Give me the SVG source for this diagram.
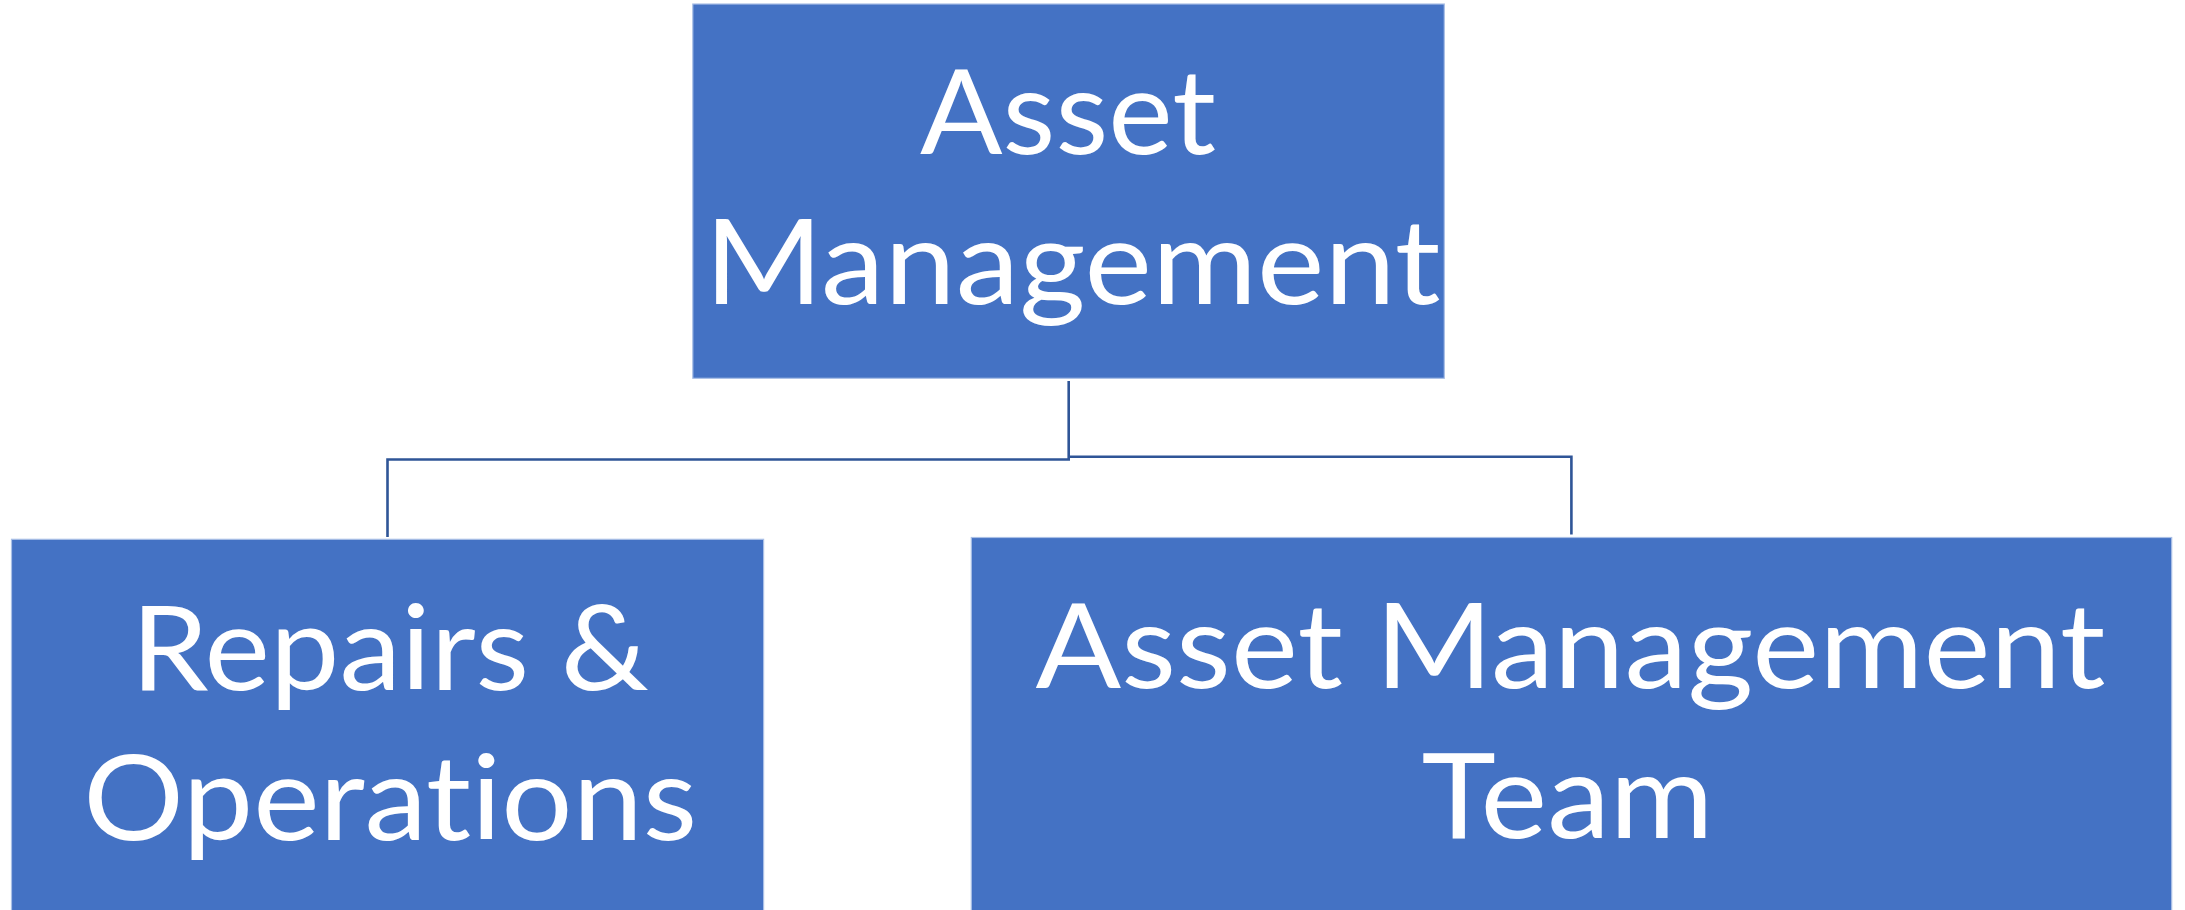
<svg xmlns="http://www.w3.org/2000/svg" width="2185" height="910" viewBox="0 0 2185 910">
  <style>
    .box { fill: #4472C4; stroke: #A9BFE6; stroke-width: 1.2; }
    .lbl { fill: #ffffff; font-family: Lato, "Open Sans", "Liberation Sans", sans-serif; font-size: 119px; text-anchor: middle; font-variant-ligatures: none; }
    .conn { fill: none; stroke: #2F5597; stroke-width: 2.6; }
  </style>
  <rect x="0" y="0" width="2185" height="910" fill="#ffffff"/>
  <g id="connectors">
    <path class="conn" d="M1068.7,381 V459.5 H387.5 V537"/>
    <path class="conn" d="M1068.7,456.8 H1571.4 V534.5"/>
  </g>
  <g id="node-asset-management">
    <rect class="box" x="692.8" y="4" width="751.5" height="374.3"/>
    <text class="lbl" x="1068" y="154" textLength="296" lengthAdjust="spacingAndGlyphs">Asset</text>
    <text class="lbl" x="1072.5" y="304" textLength="736" lengthAdjust="spacingAndGlyphs">Management</text>
  </g>
  <g id="node-repairs-operations">
    <rect class="box" x="11.5" y="539.3" width="752.1" height="380"/>
    <text class="lbl" x="390" y="690" textLength="518" lengthAdjust="spacingAndGlyphs">Repairs &amp;</text>
    <text class="lbl" x="390.3" y="840" textLength="614" lengthAdjust="spacingAndGlyphs">Operations</text>
  </g>
  <g id="node-asset-management-team">
    <rect class="box" x="971.3" y="537.5" width="1200.4" height="380"/>
    <text class="lbl" x="1570.5" y="688.3" textLength="1070" lengthAdjust="spacingAndGlyphs">Asset Management</text>
    <text class="lbl" x="1567.5" y="838.3" textLength="292" lengthAdjust="spacingAndGlyphs">Team</text>
  </g>
</svg>
